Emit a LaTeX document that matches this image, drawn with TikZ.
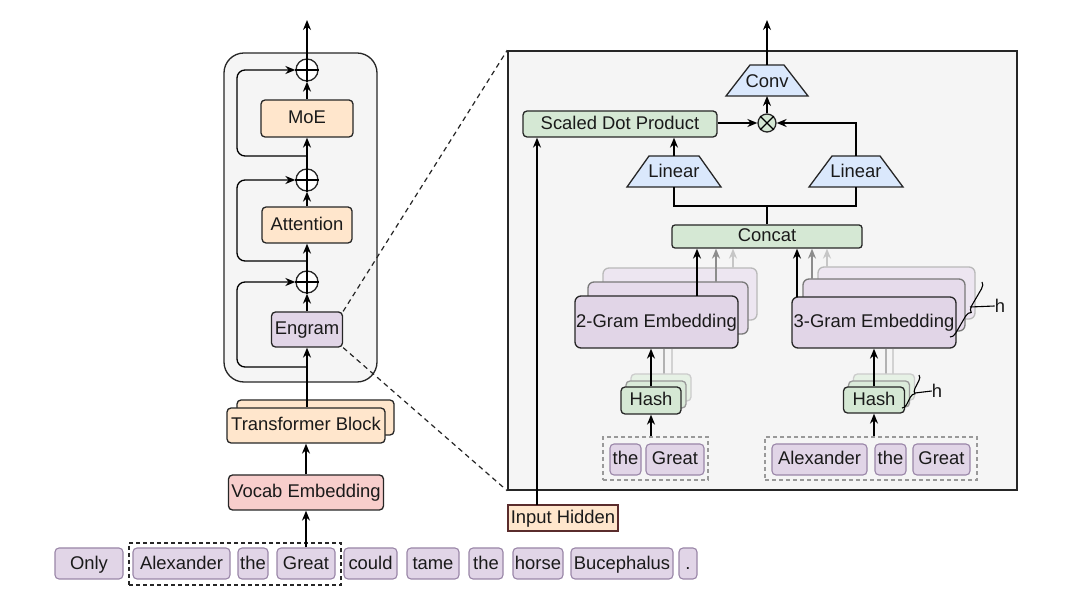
\documentclass[tikz,border=0pt]{standalone}
\usepackage{fontspec}
\setmainfont{Liberation Sans}
\usetikzlibrary{arrows.meta,decorations.pathreplacing}
\definecolor{bord}{HTML}{262626}
\definecolor{txtc}{HTML}{1A1A1A}
\definecolor{peach}{HTML}{FFE6CC}
\definecolor{pinkf}{HTML}{F8CECC}
\definecolor{purf}{HTML}{E1D5E7}
\definecolor{purb}{HTML}{9A86A8}
\definecolor{greenf}{HTML}{D5E8D4}
\definecolor{bluef}{HTML}{DAE8FC}
\definecolor{panelf}{HTML}{F5F5F5}
\definecolor{brownb}{HTML}{5A2C2C}
\begin{document}
\begin{tikzpicture}[x=1pt,y=-1pt,
  bx/.style={draw=bord, line width=1.3pt, rounded corners=4pt, inner sep=0pt,
    font=\fontsize{18.4}{21}\selectfont, text=txtc, text height=14pt, text depth=3pt},
  tok/.style={draw=purb, fill=purf, line width=1.1pt, rounded corners=4pt, inner sep=0pt,
    minimum height=31pt, font=\fontsize{18.4}{21}\selectfont, text=txtc, text height=14pt, text depth=3pt},
  txt/.style={inner sep=0pt, font=\fontsize{18.4}{21}\selectfont, text=txtc},
  arr/.style={-{Stealth[length=10pt,width=8pt]}, line width=1.3pt, draw=black},
  gln/.style={line width=1.2pt},
  circ/.style={circle, draw=bord, line width=1.3pt, inner sep=0pt, minimum size=#1},
  trap/.style={draw=bord, fill=bluef, line width=1.3pt},
  dbox/.style={draw=bord, dashed, line width=1.2pt, dash pattern=on 4pt off 3pt},
  gdbox/.style={draw=gray!80, dashed, line width=1.2pt, dash pattern=on 4pt off 3pt}
]
\useasboundingbox (0,0) rectangle (1080,601);
\fill[white] (0,0) rectangle (1080,601);

% ---------------- right panel ----------------
\node[draw=bord, fill=panelf, line width=1.5pt, inner sep=0pt, minimum width=509pt, minimum height=439pt] (panel) at (762.5,270.5) {};

% ---------------- left column ----------------
\node[draw=bord, fill=panelf, line width=1.3pt, rounded corners=20pt, inner sep=0pt, minimum width=153pt, minimum height=329pt] (bigL) at (300.5,217.5) {};

\node[circ=22pt, fill=white] (p1) at (307,70) {};
\node[circ=22pt, fill=white] (p2) at (307,180) {};
\node[circ=22pt, fill=white] (p3) at (307,282) {};
\foreach \p in {p1,p2,p3}{\draw[line width=1.2pt] (\p.north) -- (\p.south) (\p.east) -- (\p.west);}

\node[bx, fill=peach, minimum width=92pt, minimum height=37pt] (moe) at (307,118.5) {MoE};
\node[bx, fill=peach, minimum width=90pt, minimum height=36pt] (attn) at (307,225) {Attention};
\node[bx, fill=purf, minimum width=71pt, minimum height=35pt] (engram) at (307,329.5) {Engram};

\node[bx, fill=peach, minimum width=157pt, minimum height=35pt] (tbback) at (315.5,417.5) {};
\node[bx, fill=peach, minimum width=158pt, minimum height=35pt] (tb) at (306,425.5) {Transformer Block};
\node[bx, fill=pinkf, minimum width=155pt, minimum height=35pt] (vocab) at (306,492.5) {Vocab Embedding};

\coordinate (topL) at (307,20);
\draw[arr] (p1.north) -- (topL);
\draw[arr] (moe.north) -- (p1.south);
\draw[arr] (p2.north) -- (moe.south);
\draw[arr] (attn.north) -- (p2.south);
\draw[arr] (p3.north) -- (attn.south);
\draw[arr] (engram.north) -- (p3.south);
\draw[arr] (tb.north -| engram.south) -- (engram.south);
\draw[arr] (vocab.north) -- (tb.south);

\coordinate (s1) at (307,156);
\coordinate (s2) at (307,261);
\coordinate (s3) at (307,367);
\draw[arr, rounded corners=8pt] (s1) -- (237,156) -- (237,70) -- (p1.west);
\draw[arr, rounded corners=8pt] (s2) -- (237,261) -- (237,180) -- (p2.west);
\draw[arr, rounded corners=8pt] (s3) -- (237,367) -- (237,282) -- (p3.west);

% dashed zoom lines
\draw[dbox, dash pattern=on 5pt off 4pt] (engram.north east) -- (panel.north west);
\draw[dbox, dash pattern=on 5pt off 4pt] (engram.south east) -- (panel.south west);

% ---------------- tokens ----------------
\node[dbox, inner sep=0pt, minimum width=212pt, minimum height=42pt] (grp) at (235,564) {};
\node[tok, minimum width=68pt] (t1) at (89,563.5) {Only};
\node[tok, minimum width=97pt] (t2) at (181.5,563.5) {Alexander};
\node[tok, minimum width=30pt] (t3) at (253,563.5) {the};
\node[tok, minimum width=58pt] (t4) at (306,563.5) {Great};
\node[tok, minimum width=53pt] (t5) at (370.5,563.5) {could};
\node[tok, minimum width=52pt] (t6) at (433,563.5) {tame};
\node[tok, minimum width=34pt] (t7) at (486,563.5) {the};
\node[tok, minimum width=50pt] (t8) at (538,563.5) {horse};
\node[tok, minimum width=102pt] (t9) at (622,563.5) {Bucephalus};
\node[tok, minimum width=18pt] (t10) at (688,563.5) {.};
\draw[arr] (t4.north) -- (vocab.south);

% ---------------- right panel content ----------------
% Conv
\filldraw[trap] (750,65) -- (784,65) -- (808,96) -- (726,96) -- cycle;
\node[txt] (conv) at (767,81) {Conv};
\coordinate (convT) at (767,65);
\coordinate (convB) at (767,96);
\coordinate (topR) at (767,20);
\draw[arr] (convT) -- (topR);

% otimes
\node[circ=18pt, fill=greenf] (ot) at (767,123) {};
\draw[line width=1.2pt] (ot.45) -- (ot.225) (ot.135) -- (ot.315);
\draw[arr] (ot.north) -- (convB);

% Scaled dot product
\node[bx, fill=greenf, minimum width=194pt, minimum height=26pt] (sdp) at (620,124) {Scaled Dot Product};
\draw[arr] (sdp.east |- ot.west) -- (ot.west);

% Linear left
\filldraw[trap] (649,156) -- (699,156) -- (721,187) -- (627,187) -- cycle;
\node[txt] (lin1) at (674,171) {Linear};
\coordinate (l1T) at (674,156);
\coordinate (l1B) at (674,187);
\draw[arr] (l1T) -- (sdp.south -| l1T);

% Linear right
\filldraw[trap] (832,156) -- (880,156) -- (903,187) -- (809,187) -- cycle;
\node[txt] (lin2) at (856,171) {Linear};
\coordinate (l2T) at (856,156);
\coordinate (l2B) at (856,187);
\draw[arr] (l2T) |- (ot.east);

% Concat
\node[bx, fill=greenf, rounded corners=3pt, minimum width=190pt, minimum height=23pt] (concat) at (767,236.5) {Concat};
\coordinate (jn) at (767,206);
\draw[line width=1.3pt] (l1B) |- (jn) -| (l2B);
\draw[line width=1.3pt] (concat.north) -- (jn);

% Input hidden
\node[draw=brownb, fill=peach, line width=1.3pt, inner sep=0pt, minimum width=110pt, minimum height=26pt, font=\fontsize{18.4}{21}\selectfont, text=txtc, text height=14pt, text depth=3pt] (inh) at (563,518) {Input Hidden};
\coordinate (inhT) at (537,505);
\draw[arr] (inhT) -- (sdp.south -| inhT);

% ---- 2-gram stack ----
\node[bx, fill=purf!60, draw=gray!55, rounded corners=6pt, minimum width=154pt, minimum height=52pt] (g2c) at (680,294) {};
\node[bx, fill=purf!85, draw=gray!95!black, rounded corners=6pt, minimum width=160pt, minimum height=52pt] (g2b) at (668,308) {};
\node[bx, fill=purf, rounded corners=6pt, minimum width=163pt, minimum height=52pt] (g2) at (656.5,322) {2-Gram Embedding};
\coordinate (a2a) at (697,296);
\coordinate (a2b) at (716,282);
\coordinate (a2c) at (733,268);
\draw[arr] (a2a) -- (concat.south -| a2a);
\draw[arr, draw=gray!90] (a2b) -- (concat.south -| a2b);
\draw[arr, draw=gray!45] (a2c) -- (concat.south -| a2c);

% ---- 3-gram stack ----
\node[bx, fill=purf!60, draw=gray!55, rounded corners=6pt, minimum width=157pt, minimum height=52pt] (g3c) at (896.5,293) {};
\node[bx, fill=purf!85, draw=gray!95!black, rounded corners=6pt, minimum width=162pt, minimum height=52pt] (g3b) at (884,305) {};
\node[bx, fill=purf, rounded corners=6pt, minimum width=164pt, minimum height=51pt] (g3) at (874,322.5) {3-Gram Embedding};
\coordinate (a3a) at (797,297);
\coordinate (a3b) at (812,279);
\coordinate (a3c) at (827,267);
\draw[arr] (a3a) -- (concat.south -| a3a);
\draw[arr, draw=gray!90] (a3b) -- (concat.south -| a3b);
\draw[arr, draw=gray!45] (a3c) -- (concat.south -| a3c);
\draw[line width=1.1pt, decorate, decoration={brace, amplitude=6pt}] (982,282) -- (950,337);
\coordinate (b3) at (970,307);
\node[txt] (h3) at (1000,306) {h};
\draw[line width=1.1pt] (b3) -- (h3.west);

% ---- hash left ----
\coordinate (hl1) at (664,381);
\coordinate (hl2) at (672,374);
\draw[gln, draw=gray!60] (hl1) -- (g2.south -| hl1);
\draw[gln, draw=gray!35] (hl2) -- (g2.south -| hl2);
\node[bx, fill=greenf!60, draw=gray!40, minimum width=60pt, minimum height=27pt] (hlc) at (661,387.5) {};
\node[bx, fill=greenf!85, draw=gray!80, minimum width=60pt, minimum height=27pt] (hlb) at (656,394.5) {};
\node[bx, fill=greenf, minimum width=60pt, minimum height=27pt] (hashL) at (651,400.5) {Hash};
\draw[arr] (hashL.north) -- (g2.south -| hashL.north);

% ---- hash right ----
\coordinate (hr1) at (886,381);
\coordinate (hr2) at (893,374);
\draw[gln, draw=gray!60] (hr1) -- (g3.south -| hr1);
\draw[gln, draw=gray!35] (hr2) -- (g3.south -| hr2);
\node[bx, fill=greenf!60, draw=gray!40, minimum width=61pt, minimum height=26pt] (hrc) at (884,387) {};
\node[bx, fill=greenf!85, draw=gray!80, minimum width=61pt, minimum height=26pt] (hrb) at (879,394) {};
\node[bx, fill=greenf, minimum width=61pt, minimum height=26pt] (hashR) at (874,400) {Hash};
\draw[arr] (hashR.north) -- (g3.south -| hashR.north);
\draw[line width=1.1pt, decorate, decoration={brace, amplitude=5pt}] (919,375) -- (902,408);
\coordinate (bh) at (915,393);
\node[txt] (hh) at (937,391) {h};
\draw[line width=1.1pt] (bh) -- (hh.west);

% ---- token groups right ----
\node[gdbox, inner sep=0pt, minimum width=105pt, minimum height=43pt] (grpL) at (655.5,458.5) {};
\node[tok, minimum width=31pt] (r1) at (625.5,459.5) {the};
\node[tok, minimum width=58pt] (r2) at (675,459.5) {Great};
\draw[arr] (grpL.north -| hashL.south) -- (hashL.south);

\node[gdbox, inner sep=0pt, minimum width=212pt, minimum height=43pt] (grpR) at (871,458.5) {};
\node[tok, minimum width=95pt] (r3) at (819.5,459.5) {Alexander};
\node[tok, minimum width=31pt] (r4) at (890.5,459.5) {the};
\node[tok, minimum width=57pt] (r5) at (941.5,459.5) {Great};
\draw[arr] (grpR.north -| hashR.south) -- (hashR.south);

\end{tikzpicture}
\end{document}
